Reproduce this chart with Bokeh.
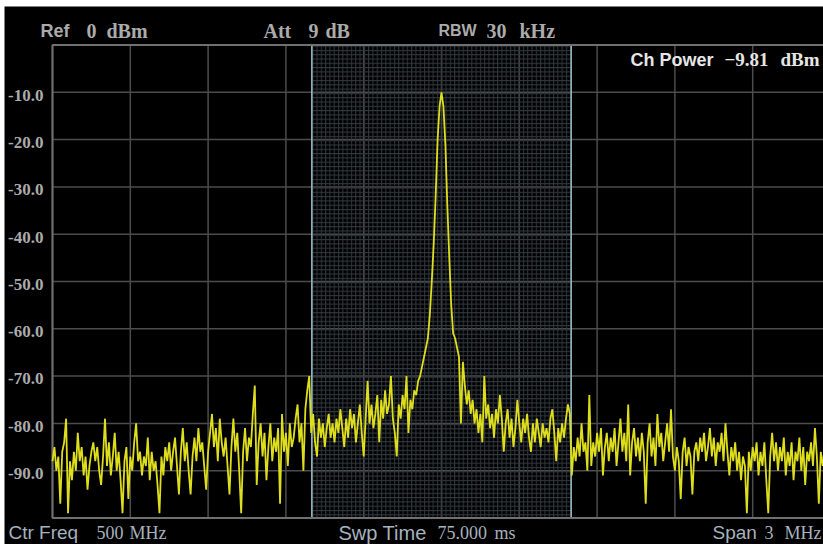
from bokeh.plotting import figure
from bokeh.models import Label
from bokeh.embed import file_html
from bokeh.resources import INLINE

# ---------------- data ----------------
freq_start_mhz = 498.5
freq_stop_mhz = 501.5
ref_level_db = 0
bottom_level_db = -100
channel_low_mhz = 499.5
channel_high_mhz = 500.5

x_ticks = [498.5, 498.8, 499.1, 499.4, 499.7, 500.0, 500.3, 500.6, 500.9, 501.2, 501.5]
y_ticks = [-10, -20, -30, -40, -50, -60, -70, -80, -90]
y_tick_labels = ["-10.0", "-20.0", "-30.0", "-40.0", "-50.0", "-60.0", "-70.0", "-80.0", "-90.0"]

trace_left = [
    -88, -85, -90, -87, -97, -86, -84, -79, -99, -88,
    -92, -86, -90, -82, -88, -85, -91, -87, -94, -89,
    -86, -84, -88, -85, -90, -93, -87, -79, -89, -84,
    -91, -87, -82, -90, -86, -92, -99, -88, -85, -96,
    -87, -90, -84, -80, -88, -86, -91, -87, -89, -83,
    -92, -86, -90, -88, -93, -99, -87, -91, -85, -88,
    -84, -90, -86, -83, -89, -95, -86, -81, -88, -84,
    -90, -95, -87, -83, -88, -81, -86, -84, -89, -94,
    -86, -82, -78, -85, -81, -88, -79, -84, -87, -83,
    -89, -95, -85, -79, -86, -82, -90, -99, -86, -81,
    -88, -83, -85, -78, -72, -93, -84, -80, -87, -82,
    -92, -85, -80, -88, -83, -86, -81, -97, -78, -86,
    -82, -89, -80, -85, -83, -79, -76, -84, -80, -90,
    -77, -73, -70,
]
trace_channel = [
    -82, -78, -84, -87, -79, -83, -80, -85, -81, -78,
    -83, -80, -84, -79, -82, -77, -81, -85, -79, -83,
    -77, -81, -78, -84, -80, -76, -82, -87, -79, -71,
    -80, -76, -81, -78, -74, -84, -75, -79, -73, -78,
    -76, -70, -79, -82, -87, -76, -79, -74, -77, -70,
    -82, -75, -77, -73, -74, -71, -70, -68, -66, -64,
    -62, -57, -50, -42, -32, -20, -13, -10, -13, -21,
    -34, -45, -55, -61, -62, -64, -66, -80, -67, -72,
    -76, -73, -78, -75, -80, -77, -82, -78, -84, -70,
    -79, -76, -81, -78, -83, -77, -80, -74, -79, -86,
    -80, -77, -83, -79, -85, -81, -75, -80, -84, -79,
    -82, -78, -83, -86, -80, -84, -79, -82, -85, -80,
    -83, -81, -84, -79, -77, -82, -88, -81, -84, -80,
    -83, -79, -76, -78, -91,
]
trace_right = [
    -85, -88, -83, -87, -80, -86, -84, -90, -74, -89,
    -84, -87, -82, -86, -81, -91, -85, -82, -88, -83,
    -86, -81, -89, -84, -79, -86, -82, -88, -76, -91,
    -84, -81, -87, -83, -88, -82, -86, -97, -84, -80,
    -87, -83, -89, -78, -85, -82, -88, -84, -80, -86,
    -77, -87, -90, -85, -88, -96, -86, -83, -89, -85,
    -87, -95, -86, -84, -88, -83, -86, -82, -88, -85,
    -81, -87, -83, -89, -84, -86, -82, -88, -80, -86,
    -91, -85, -88, -84, -90, -86, -92, -87, -89, -99,
    -86, -90, -85, -88, -84, -91, -86, -89, -84, -92,
    -99, -87, -82, -88, -84, -90, -85, -88, -83, -91,
    -86, -89, -84, -92, -86, -88, -83, -90, -85, -93,
    -86, -88, -84, -89, -81, -87, -97, -86, -89, -85,
    -88, -86, -90,
]
trace_db = trace_left + trace_channel + trace_right
n_points = len(trace_db)
trace_freq = [freq_start_mhz + i * (freq_stop_mhz - freq_start_mhz) / (n_points - 1)
              for i in range(n_points)]

# ---------------- styles ----------------
BG = "#000000"
PAGE = "#ffffff"
TXT = "#ababab"
TXT_BOTTOM = "#a6b2bd"
GRID = "#4c4c4c"
FRAME = "#707070"
HATCH = "#303840"
CH_EDGE = "#9cc3c6"
TRACE = "#dede1c"

W, H = 823, 544
BORDER_LEFT, BORDER_TOP = 4, 6
GRAT_LEFT_PX, GRAT_TOP_PX = 52, 44.5      # graticule position on the canvas
DIV_W_PX, DIV_H_PX = 77.8, 47.3           # size of one graticule division

px_per_mhz = 10 * DIV_W_PX / (freq_stop_mhz - freq_start_mhz)
px_per_db = 10 * DIV_H_PX / (ref_level_db - bottom_level_db)


def fx(px):
    return freq_start_mhz + (px - GRAT_LEFT_PX) / px_per_mhz


def fy(py):
    return ref_level_db - (py - GRAT_TOP_PX) / px_per_db


p = figure(width=W, height=H, x_range=(fx(BORDER_LEFT), fx(W)), y_range=(fy(H), fy(BORDER_TOP)),
           x_axis_location=None, y_axis_location=None, toolbar_location=None,
           output_backend="svg", min_border_left=BORDER_LEFT, min_border_right=0,
           min_border_top=BORDER_TOP, min_border_bottom=0)
p.background_fill_color = BG
p.border_fill_color = PAGE
p.outline_line_color = None
p.xgrid.visible = False
p.ygrid.visible = False

# graticule
p.segment(x0=x_ticks, x1=x_ticks, y0=[bottom_level_db] * len(x_ticks),
          y1=[ref_level_db] * len(x_ticks), line_color=GRID, line_width=1.5)
p.segment(x0=[freq_start_mhz] * len(y_ticks), x1=[freq_stop_mhz] * len(y_ticks),
          y0=y_ticks, y1=y_ticks, line_color=GRID, line_width=1.5)

# channel region with fine dotted graticule
p.quad(left=[channel_low_mhz], right=[channel_high_mhz], top=[ref_level_db],
       bottom=[bottom_level_db], fill_alpha=0, line_color=None, hatch_pattern="+",
       hatch_color=HATCH, hatch_scale=4.3, hatch_weight=1)
p.segment(x0=[channel_low_mhz, channel_high_mhz], x1=[channel_low_mhz, channel_high_mhz],
          y0=[bottom_level_db] * 2, y1=[ref_level_db] * 2, line_color=CH_EDGE, line_width=1.5)

# outer graticule frame
p.quad(left=[freq_start_mhz], right=[freq_stop_mhz], top=[ref_level_db],
       bottom=[bottom_level_db], fill_alpha=0, line_color=FRAME, line_width=2)

p.line(trace_freq, trace_db, line_color=TRACE, line_width=1.8)


def add_text(txt, px, py, font, size, color, style="normal", align="left"):
    p.add_layout(Label(x=fx(px), y=fy(py), text=txt, text_font=font,
                       text_font_size=f"{size}px", text_color=color,
                       text_font_style=style, text_align=align,
                       text_baseline="middle"))


# y tick labels
for tv, tl in zip(y_ticks, y_tick_labels):
    p.add_layout(Label(x=fx(43), y=tv - 0.6, text=tl, text_font="Liberation Serif",
                       text_font_size="17px", text_color=TXT, text_font_style="bold",
                       text_align="right", text_baseline="middle"))

# header
add_text("Ref", 40, 30, "Liberation Sans", 18, TXT, "bold")
add_text("0", 86, 30, "Liberation Serif", 20, TXT, "bold")
add_text("dBm", 106, 30, "Liberation Serif", 20, TXT, "bold")
add_text("Att", 263, 30, "Liberation Serif", 20, TXT, "bold")
add_text("9", 308, 30, "Liberation Serif", 20, TXT, "bold")
add_text("dB", 325, 30, "Liberation Serif", 20, TXT, "bold")
add_text("RBW", 438, 30, "Liberation Sans", 16, TXT, "bold")
add_text("30", 486, 30, "Liberation Serif", 20, TXT, "bold")
add_text("kHz", 519, 30, "Liberation Serif", 20, TXT, "bold")

add_text("Ch Power", 630, 59, "Liberation Sans", 18, "#e6e6e6", "bold")
add_text("\u22129.81", 724, 59, "Liberation Serif", 19, "#e6e6e6", "bold")
add_text("dBm", 780, 59, "Liberation Serif", 19, "#e6e6e6", "bold")

# footer
add_text("Ctr Freq", 8, 532, "Liberation Sans", 19, TXT_BOTTOM)
add_text("500", 96, 532, "Liberation Serif", 18, TXT_BOTTOM)
add_text("MHz", 129, 532, "Liberation Serif", 18, TXT_BOTTOM)
add_text("Swp Time", 338, 532, "Liberation Sans", 20, TXT_BOTTOM)
add_text("75.000", 437, 532, "Liberation Serif", 18, TXT_BOTTOM)
add_text("ms", 494, 532, "Liberation Serif", 18, TXT_BOTTOM)
add_text("Span", 712, 532, "Liberation Sans", 19, TXT_BOTTOM)
add_text("3", 764, 532, "Liberation Serif", 18, TXT_BOTTOM)
add_text("MHz", 784, 532, "Liberation Serif", 18, TXT_BOTTOM)

open("out.html", "w").write(file_html(p, INLINE))
